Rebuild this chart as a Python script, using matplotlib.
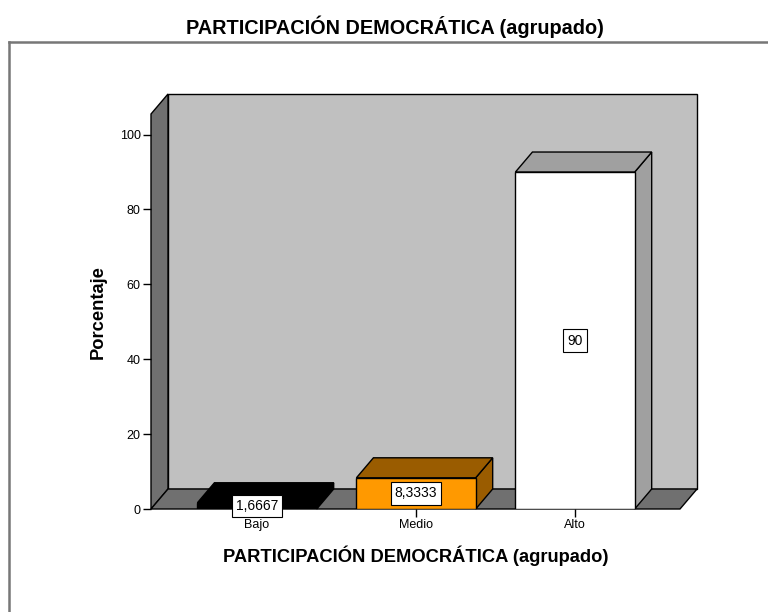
import matplotlib
matplotlib.use("Agg")
import matplotlib.pyplot as plt
from matplotlib.patches import Polygon
from matplotlib.lines import Line2D

plt.rcParams['font.family'] = ['Liberation Sans', 'DejaVu Sans']

categories = ['Bajo', 'Medio', 'Alto']
values = [1.6667, 8.3333, 90.0]
labels = ['1,6667', '8,3333', '90']
front_colors = ['#000000', '#FF9900', '#FFFFFF']
shade_colors = ['#000000', '#9A5C00', '#A0A0A0']

title = 'PARTICIPACIÓN DEMOCRÁTICA (agrupado)'

fig = plt.figure(figsize=(7.68, 6.12), dpi=100)
W, H = 768, 612
ax = fig.add_axes([151 / W, 1 - 509 / H, (680 - 151) / W, (509 - 114) / H])

xl, xr = -0.667, 2.66
ytop = 105.5
ax.set_xlim(xl, xr)
ax.set_ylim(0, ytop)

# depth offset for the 3D look (data units)
DX = 17 / 159
DY = 20 / 3.743

ec = dict(edgecolor='black', linewidth=1.0, clip_on=False, joinstyle='miter')
# back wall
ax.add_patch(Polygon([(xl + DX, DY), (xr + DX, DY), (xr + DX, ytop + DY), (xl + DX, ytop + DY)],
                     facecolor='#C0C0C0', zorder=0, **ec))
# left wall
ax.add_patch(Polygon([(xl, 0), (xl, ytop), (xl + DX, ytop + DY), (xl + DX, DY)],
                     facecolor='#707070', zorder=1, **ec))
# floor
ax.add_patch(Polygon([(xl, 0), (xr, 0), (xr + DX, DY), (xl + DX, DY)],
                     facecolor='#707070', zorder=1, **ec))

width = 0.75
for i, v in enumerate(values):
    x0, x1 = i - width / 2, i + width / 2
    # side
    ax.add_patch(Polygon([(x1, 0), (x1 + DX, DY), (x1 + DX, v + DY), (x1, v)],
                         facecolor=shade_colors[i], zorder=2, **ec))
    # top
    ax.add_patch(Polygon([(x0, v), (x1, v), (x1 + DX, v + DY), (x0 + DX, v + DY)],
                         facecolor=shade_colors[i], zorder=2, **ec))
ax.bar(range(len(values)), values, width=width, color=front_colors,
       edgecolor='black', linewidth=1.0, zorder=3)

for i, v in enumerate(values):
    ax.text(i, v / 2, labels[i], ha='center', va='center', fontsize=10, zorder=5,
            bbox=dict(boxstyle='square,pad=0.3', facecolor='white', edgecolor='black', linewidth=0.8))

for s in ['top', 'right', 'bottom', 'left']:
    ax.spines[s].set_visible(False)
ax.patch.set_visible(False)

ax.set_yticks([0, 20, 40, 60, 80, 100])
ax.set_xticks(range(len(categories)))
ax.set_xticklabels(categories)
ax.tick_params(axis='both', direction='out', length=6, width=1, labelsize=9, pad=1.5, color='black')

fig.text(395 / W, 1 - 27 / H, title, ha='center', va='center', fontsize=14.3, fontweight='bold')
fig.text(416 / W, 1 - 556 / H, title, ha='center', va='center', fontsize=13.2, fontweight='bold')
fig.text(98 / W, 1 - 312 / H, 'Porcentaje', ha='center', va='center', rotation=90,
         fontsize=13.2, fontweight='bold')

# outer frame
fig.add_artist(Line2D([9 / W, 9 / W], [0, 1 - 42 / H], color='#777777', linewidth=1.8))
fig.add_artist(Line2D([9 / W, 1], [1 - 42 / H, 1 - 42 / H], color='#777777', linewidth=1.8))

fig.savefig('out.png', dpi=100)
